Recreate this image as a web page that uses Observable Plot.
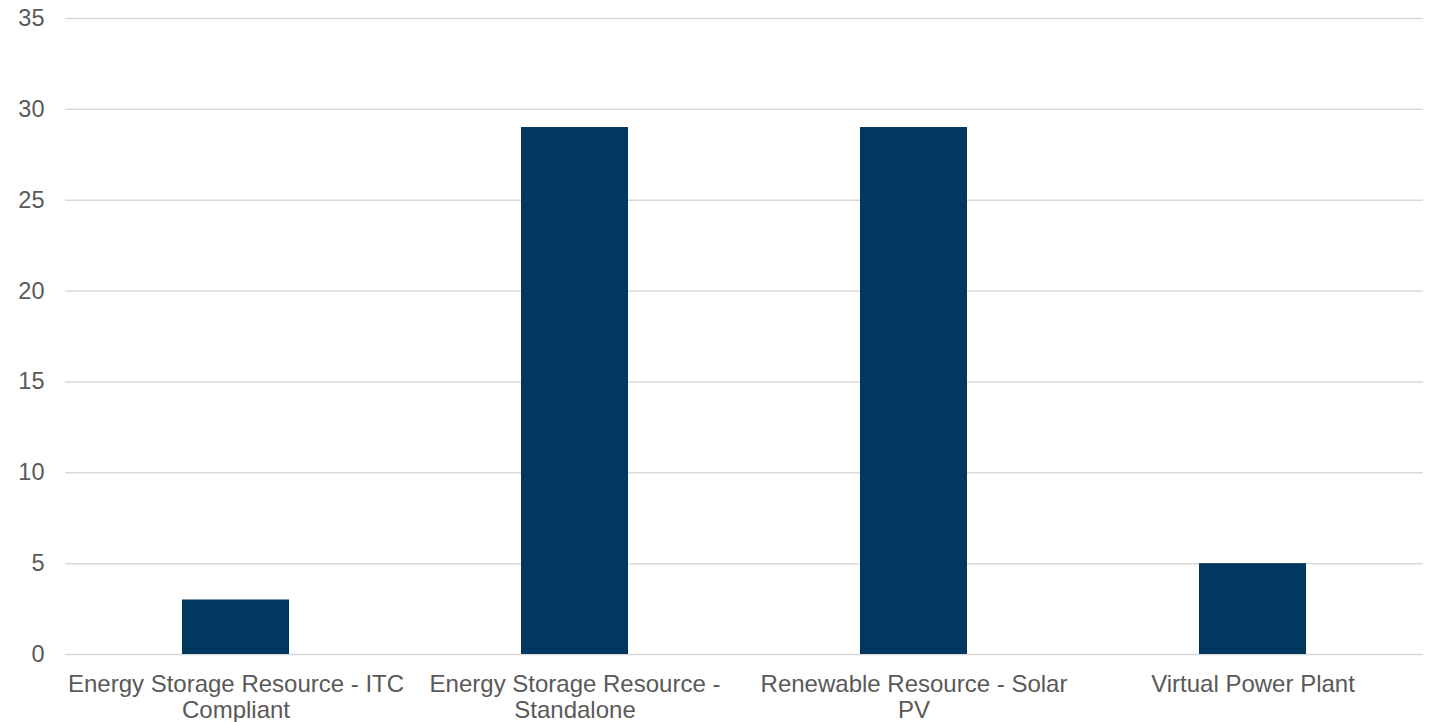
<!DOCTYPE html>
<html>
<head>
<meta charset="utf-8">
<script src="https://cdn.jsdelivr.net/npm/d3@7"></script>
<script src="https://cdn.jsdelivr.net/npm/@observablehq/plot@0.6"></script>
<style>
  html, body { margin: 0; padding: 0; background: #fff; }
  #chart svg { display: block; }
</style>
</head>
<body>
<div id="chart"></div>
<script>
const categories = [
  "Energy Storage Resource - ITC Compliant",
  "Energy Storage Resource - Standalone",
  "Renewable Resource - Solar PV",
  "Virtual Power Plant"
];
const categoryLabels = [
  "Energy Storage Resource - ITC\nCompliant",
  "Energy Storage Resource -\nStandalone",
  "Renewable Resource - Solar\nPV",
  "Virtual Power Plant"
];
const values = [3, 29, 29, 5];
const yTicks = [0, 5, 10, 15, 20, 25, 30, 35];

const data = categories.map((c, i) => ({category: c, value: values[i]}));
const labelOf = new Map(categories.map((c, i) => [c, categoryLabels[i]]));

const chart = Plot.plot({
  width: 1435,
  height: 722,
  marginLeft: 65,
  marginRight: 12,
  marginTop: 18,
  marginBottom: 68,
  style: {fontFamily: "'Liberation Sans', Arial, sans-serif", fontSize: "23.5px", color: "#595959", background: "#fff"},
  x: {domain: categories, paddingInner: 0.685, paddingOuter: 0.3425, label: null},
  y: {domain: [0, 35], label: null},
  marks: [
    Plot.gridY(yTicks, {stroke: "#d9d9d9", strokeOpacity: 1, strokeWidth: 1.5}),
    Plot.barY(data, {x: "category", y: "value", fill: "#02375f"}),
    Plot.axisY(yTicks, {tickSize: 0, tickPadding: 21, fontSize: 23.5, fill: "#595959", label: null}),
    Plot.axisX({tickSize: 0, tickPadding: 19, fontSize: 24, fill: "#595959", lineHeight: 1.08, tickFormat: d => labelOf.get(d), label: null})
  ]
});
document.getElementById("chart").appendChild(chart);
</script>
</body>
</html>
